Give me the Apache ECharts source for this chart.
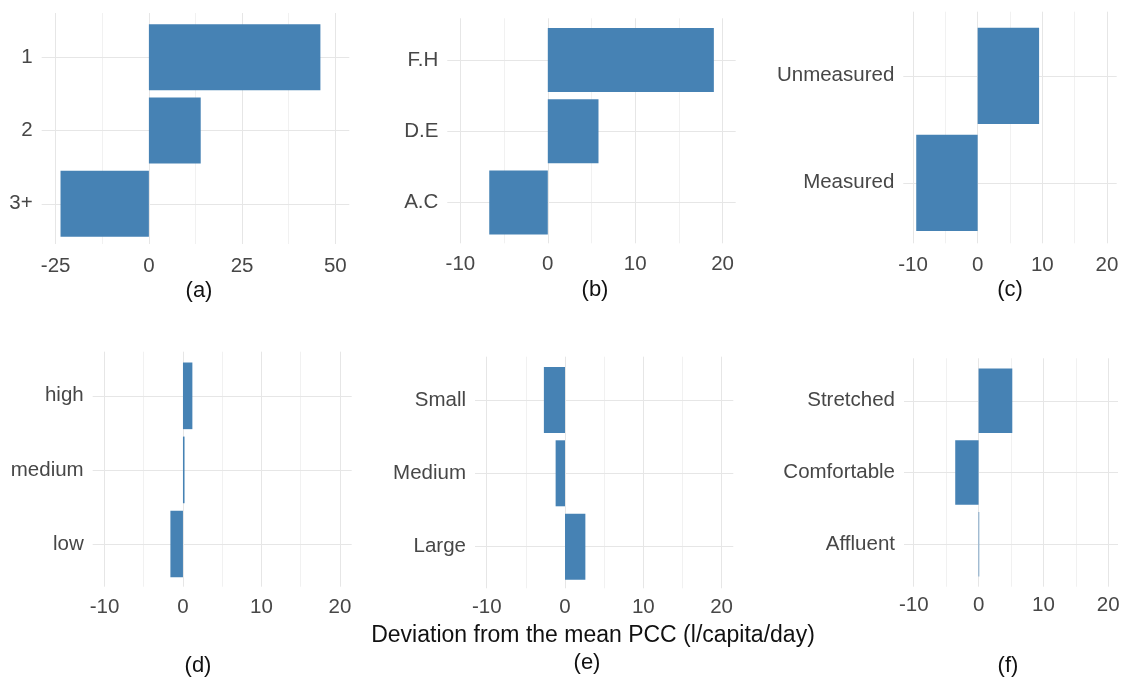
<!DOCTYPE html>
<html>
<head>
<meta charset="utf-8">
<title>Deviation from the mean PCC</title>
<script src="https://cdn.jsdelivr.net/npm/echarts@6/dist/echarts.min.js"></script>
<style>
  html, body { margin: 0; padding: 0; background: #ffffff; }
  #chart { width: 1123px; height: 677px; }
</style>
</head>
<body>
<div id="chart"></div>
<script>
// Deviation from the mean per-capita consumption, by household attribute
const catsA = ['1', '2', '3+'];
const valsA = [46.0, 13.9, -23.7];

const catsB = ['F.H', 'D.E', 'A.C'];
const valsB = [19.0, 5.8, -6.7];

const catsC = ['Unmeasured', 'Measured'];
const valsC = [9.5, -9.5];

const catsD = ['high', 'medium', 'low'];
const valsD = [1.2, 0.2, -1.6];

const catsE = ['Small', 'Medium', 'Large'];
const valsE = [-2.7, -1.2, 2.6];

const catsF = ['Stretched', 'Comfortable', 'Affluent'];
const valsF = [5.2, -3.6, 0.1];

// axis breaks
const ticksWide = [-25, 0, 25, 50];
const minorWide = [-12.5, 12.5, 37.5];
const ticksStd = [-10, 0, 10, 20];
const minorStd = [-5, 5, 15];

const captions = ['(a)', '(b)', '(c)', '(d)', '(e)', '(f)'];
const axisTitle = 'Deviation from the mean PCC (l/capita/day)';

const FONT = '"Liberation Sans", Arial, Helvetica, sans-serif';
const BAR = '#4682B4';
const GRID_MAJOR = '#E6E6E6';
const GRID_MINOR = '#F1F1F1';
const TICK_TEXT = '#474747';

// panel geometry: plotting rect (bg) and bar band rect (main)
const panels = [
  { cats: catsA, vals: valsA, ticks: ticksWide, minor: minorWide, min: -28.75, max: 53.75,
    left: 41.7, width: 307.6, bgTop: 13, bgBottom: 244, top: 20.5, bottom: 240.5, labelMargin: 12 },
  { cats: catsB, vals: valsB, ticks: ticksStd, minor: minorStd, min: -11.5, max: 21.5,
    left: 447.3, width: 288.4, bgTop: 18.3, bgBottom: 243.3, top: 24.4, bottom: 238.1, labelMargin: 11 },
  { cats: catsC, vals: valsC, ticks: ticksStd, minor: minorStd, min: -11.5, max: 21.5,
    left: 903.3, width: 213.4, bgTop: 11.7, bgBottom: 243.3, top: 22.3, bottom: 236.3, labelMargin: 12 },
  { cats: catsD, vals: valsD, ticks: ticksStd, minor: minorStd, min: -11.5, max: 21.5,
    left: 92.7, width: 259, bgTop: 351.7, bgBottom: 586.7, top: 358.8, bottom: 581, labelMargin: 10 },
  { cats: catsE, vals: valsE, ticks: ticksStd, minor: minorStd, min: -11.5, max: 21.5,
    left: 475, width: 258.3, bgTop: 356.7, bgBottom: 588.3, top: 363.3, bottom: 583.3, labelMargin: 9 },
  { cats: catsF, vals: valsF, ticks: ticksStd, minor: minorStd, min: -11.5, max: 21.5,
    left: 904, width: 214, bgTop: 358.3, bgBottom: 586.7, top: 365, bottom: 580, labelMargin: 8 }
];

const captionPos = [[199, 291], [595, 290], [1010, 290], [198, 666], [587, 663], [1008, 666]];

const grid = [], xAxis = [], yAxis = [], series = [];

panels.forEach((p, i) => {
  const gMain = 2 * i, gBg = 2 * i + 1;
  grid.push({ left: p.left, top: p.top, width: p.width, height: p.bottom - p.top,
              containLabel: false, outerBoundsMode: 'none' });
  grid.push({ left: p.left, top: p.bgTop, width: p.width, height: p.bgBottom - p.bgTop,
              containLabel: false, outerBoundsMode: 'none' });

  // bar band axes
  xAxis.push({ type: 'value', gridIndex: gMain, min: p.min, max: p.max, show: false });
  yAxis.push({
    type: 'category', gridIndex: gMain, data: p.cats, inverse: true,
    axisLine: { show: false }, axisTick: { show: false }, splitLine: { show: false },
    axisLabel: { fontSize: 20.5, color: TICK_TEXT, fontFamily: FONT, margin: 9 }
  });

  // full plotting rect: value scale labels and vertical grid
  xAxis.push({
    type: 'value', gridIndex: gBg, min: p.min, max: p.max,
    axisLine: { show: false }, axisTick: { show: false, customValues: p.ticks },
    splitLine: { show: false },
    axisLabel: { customValues: p.ticks, fontSize: 20.5, color: TICK_TEXT, fontFamily: FONT,
                 margin: p.labelMargin, showMinLabel: true, showMaxLabel: true }
  });
  yAxis.push({ type: 'value', gridIndex: gBg, min: 0, max: 1, show: false });

  const vLines = p.minor.map(v => ({ xAxis: v, lineStyle: { color: GRID_MINOR, width: 1, type: 'solid' } }))
    .concat(p.ticks.map(v => ({ xAxis: v, lineStyle: { color: GRID_MAJOR, width: 1, type: 'solid' } })));

  series.push({
    type: 'scatter', xAxisIndex: gBg, yAxisIndex: gBg, data: [], silent: true, z: 0,
    markLine: { silent: true, symbol: 'none', z: 0, animation: false,
                label: { show: false }, data: vLines }
  });

  series.push({
    type: 'bar', xAxisIndex: gMain, yAxisIndex: gMain, data: p.vals,
    barWidth: '90%', itemStyle: { color: BAR }, z: 3, silent: true,
    markLine: {
      silent: true, symbol: 'none', z: 1, animation: false, label: { show: false },
      data: p.cats.map((c, k) => ({ yAxis: k, lineStyle: { color: GRID_MAJOR, width: 1, type: 'solid' } }))
    }
  });
});

const graphic = captions.map((t, i) => ({
  type: 'text', x: captionPos[i][0], y: captionPos[i][1], silent: true,
  style: { text: t, fontSize: 22, fontFamily: FONT, fill: '#111111',
           textAlign: 'center', textVerticalAlign: 'middle' }
}));
graphic.push({
  type: 'text', x: 593, y: 636, silent: true,
  style: { text: axisTitle, fontSize: 23, fontFamily: FONT, fill: '#111111',
           textAlign: 'center', textVerticalAlign: 'middle' }
});

const chart = echarts.init(document.getElementById('chart'), null, { renderer: 'canvas' });
chart.setOption({
  animation: false,
  backgroundColor: '#ffffff',
  grid, xAxis, yAxis, series, graphic
});
</script>
</body>
</html>
